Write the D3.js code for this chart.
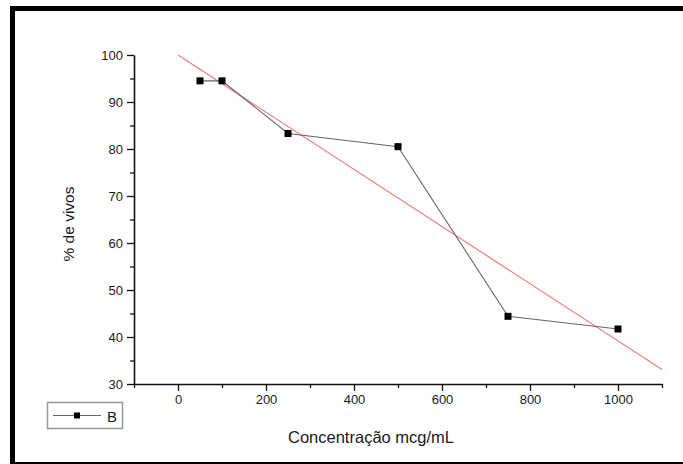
<!DOCTYPE html>
<html>
<head>
<meta charset="utf-8">
<script src="https://cdn.jsdelivr.net/npm/d3@7"></script>
<style>
  body { margin: 0; background: #fff; }
  svg { display: block; font-family: "Liberation Sans", Arial, sans-serif; }
</style>
</head>
<body>
<svg id="chart" width="683" height="464"></svg>
<script>
// measured values (concentration vs % alive)
const conc = [50, 100, 250, 500, 750, 1000];
const vivos = [94.5, 94.5, 83.3, 80.5, 44.4, 41.7];
// linear fit end points
const fitX = [0, 1100];
const fitY = [100, 33.1];
const xTicks = [0, 200, 400, 600, 800, 1000];
const yTicks = [30, 40, 50, 60, 70, 80, 90, 100];

const svg = d3.select('#chart');

// outer frame
svg.append('rect')
  .attr('x', 12.5).attr('y', 8.5)
  .attr('width', 720).attr('height', 456)
  .attr('fill', 'none').attr('stroke', '#000').attr('stroke-width', 5);

const x = d3.scaleLinear().domain([-100, 1100]).range([134, 662]);
const y = d3.scaleLinear().domain([30, 100]).range([384, 55]);

// minor ticks first, then major axis on top
svg.append('g')
  .attr('transform', 'translate(0,384)')
  .call(d3.axisBottom(x).tickValues(d3.range(-100, 1101, 200)).tickSize(4).tickFormat(''))
  .call(g => g.select('.domain').remove());
svg.append('g')
  .attr('transform', 'translate(134,0)')
  .call(d3.axisLeft(y).tickValues(d3.range(35, 100, 10)).tickSize(4).tickFormat(''))
  .call(g => g.select('.domain').remove());

svg.append('g')
  .attr('transform', 'translate(0,384)')
  .call(d3.axisBottom(x).tickValues(xTicks).tickSize(7).tickSizeOuter(0).tickPadding(4).tickFormat(d3.format('d')));
svg.append('g')
  .attr('transform', 'translate(134,0)')
  .call(d3.axisLeft(y).tickValues(yTicks).tickSize(7).tickSizeOuter(0).tickPadding(4).tickFormat(d3.format('d')));

svg.selectAll('.tick line').attr('stroke', '#111').attr('stroke-width', 1.3);
svg.selectAll('.domain').attr('stroke', '#111').attr('stroke-width', 1.6);
svg.selectAll('.tick text').attr('fill', '#1a1a1a').style('font-size', '13px');

// axis titles
svg.append('text')
  .attr('x', 371).attr('y', 443)
  .attr('text-anchor', 'middle')
  .attr('fill', '#1a1a1a').style('font-size', '16.5px')
  .text('Concentração mcg/mL');
svg.append('text')
  .attr('transform', 'translate(74,224) rotate(-90)')
  .attr('text-anchor', 'middle')
  .attr('fill', '#1a1a1a').style('font-size', '15.5px')
  .text('% de vivos');

// fit line
svg.append('line')
  .attr('x1', x(fitX[0])).attr('y1', y(fitY[0]))
  .attr('x2', x(fitX[1])).attr('y2', y(fitY[1]))
  .attr('stroke', '#f27a7a').attr('stroke-width', 1.2);

// data line + markers
const pts = conc.map((c, i) => [c, vivos[i]]);
svg.append('path')
  .datum(pts)
  .attr('d', d3.line().x(d => x(d[0])).y(d => y(d[1])))
  .attr('fill', 'none').attr('stroke', '#666').attr('stroke-width', 1.1);
svg.selectAll('rect.pt')
  .data(pts).enter()
  .append('rect')
  .attr('class', 'pt')
  .attr('x', d => x(d[0]) - 3.5).attr('y', d => y(d[1]) - 3.5)
  .attr('width', 7).attr('height', 7)
  .attr('fill', '#000');

// legend
const leg = svg.append('g');
leg.append('rect')
  .attr('x', 47.5).attr('y', 402.5).attr('width', 75).attr('height', 26)
  .attr('fill', '#fff').attr('stroke', '#999').attr('stroke-width', 1.5);
leg.append('line')
  .attr('x1', 53).attr('x2', 101).attr('y1', 415.5).attr('y2', 415.5)
  .attr('stroke', '#666').attr('stroke-width', 1.1);
leg.append('rect')
  .attr('x', 74).attr('y', 412.5).attr('width', 6).attr('height', 6)
  .attr('fill', '#000');
leg.append('text')
  .attr('x', 107).attr('y', 421.5)
  .attr('fill', '#1a1a1a').style('font-size', '15px')
  .text('B');
</script>
</body>
</html>
